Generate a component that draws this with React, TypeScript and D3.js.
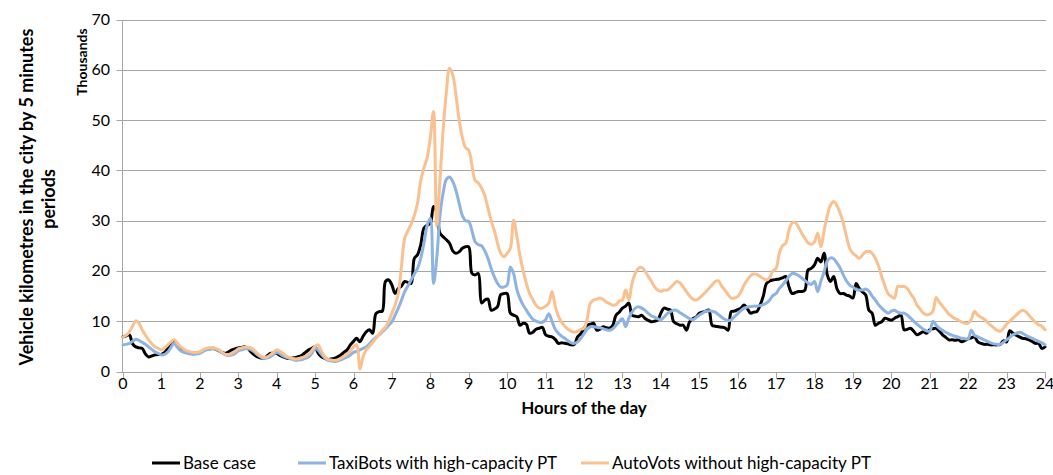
import React from "react";
import * as d3 from "d3";

// Hours of the day shown on the x axis
const hourTicks = [0, 1, 2, 3, 4, 5, 6, 7, 8, 9, 10, 11, 12, 13, 14, 15, 16, 17, 18, 19, 20, 21, 22, 23, 24];
// Thousands of vehicle-km on the y axis
const valueTicks = [0, 10, 20, 30, 40, 50, 60, 70];
const minutesPerPeriod = 5;

const seriesNames = ["Base case", "TaxiBots with high-capacity PT", "AutoVots without high-capacity PT"];

// values in thousands, one per 5-minute period from 0:00 to 24:00
const baseCase = [
  6.9, 7.1, 7.3, 5.5, 4.9, 4.7, 4.6, 3.5, 2.9, 3.1, 3.3, 3.4,
  3.4, 3.8, 4.6, 5.4, 5.9, 5.0, 4.3, 4.0, 3.9, 3.7, 3.6, 3.7,
  3.8, 4.1, 4.4, 4.5, 4.6, 4.4, 4.1, 3.8, 3.6, 3.9, 4.3, 4.5,
  4.7, 4.8, 4.9, 4.6, 3.9, 3.3, 2.9, 2.7, 2.6, 3.1, 3.6, 3.7,
  3.6, 3.2, 2.9, 2.7, 2.6, 2.7, 2.8, 3.0, 3.3, 3.8, 4.3, 4.6,
  4.9, 3.6, 2.9, 2.6, 2.4, 2.5, 2.6, 2.9, 3.3, 3.8, 4.3, 5.3,
  6.0, 6.6, 5.9, 7.0, 7.9, 8.3, 7.6, 11.5, 11.9, 12.0, 17.9, 18.2,
  17.2, 15.5, 16.5, 17.0, 17.9, 17.7, 17.5, 22.5, 23.2, 25.2, 28.5, 29.1,
  29.5, 32.8, 31.8, 27.5, 26.8, 26.2, 25.5, 24.0, 23.5, 23.8, 24.5, 24.8,
  24.8, 19.5, 19.2, 19.5, 13.6, 14.2, 14.4, 12.2, 12.4, 12.9, 15.3, 15.5,
  15.5, 11.6, 11.2, 10.9, 9.2, 9.6, 9.4, 7.6, 7.8, 8.4, 8.6, 8.8,
  7.3, 7.0, 6.9, 6.4, 5.6, 5.7, 5.6, 5.5, 5.3, 5.4, 6.9, 7.5,
  8.6, 9.2, 9.4, 9.6, 8.2, 8.4, 8.9, 8.7, 8.6, 9.2, 11.2, 11.8,
  12.6, 13.0, 13.6, 11.2, 11.0, 10.9, 11.2, 10.6, 10.2, 9.9, 10.0, 10.2,
  11.6, 12.6, 12.4, 12.2, 9.9, 9.5, 9.2, 9.2, 8.2, 9.9, 10.5, 10.8,
  11.6, 11.8, 12.0, 12.2, 9.2, 9.0, 8.9, 8.8, 8.7, 8.2, 11.9, 12.0,
  12.3, 12.6, 13.2, 12.5, 11.6, 11.8, 11.9, 13.2, 15.0, 17.5, 18.0, 18.2,
  18.3, 18.4, 18.6, 18.9, 16.9, 15.5, 15.7, 15.9, 15.9, 16.2, 20.2, 20.5,
  21.2, 22.5, 21.8, 23.5, 19.2, 17.9, 18.9, 16.5, 15.5, 15.5, 15.2, 15.0,
  14.6, 17.5, 16.5, 15.8, 15.2, 12.2, 11.6, 9.2, 9.6, 9.9, 10.6, 10.4,
  10.2, 10.6, 10.9, 11.2, 8.3, 8.4, 8.6, 8.0, 7.3, 7.6, 7.9, 7.6,
  8.3, 8.5, 8.6, 8.0, 7.3, 6.8, 6.3, 6.3, 6.2, 6.3, 5.9, 6.2,
  6.5, 6.7, 6.9, 5.9, 5.6, 5.4, 5.4, 5.3, 5.3, 5.3, 5.4, 6.1,
  5.9, 8.1, 7.6, 7.2, 6.9, 6.6, 6.5, 6.3, 6.0, 5.6, 5.6, 4.6,
  4.9,
];

const taxiBots = [
  5.3, 5.4, 5.6, 6.0, 6.4, 6.2, 5.8, 5.4, 4.9, 4.4, 3.9, 3.6,
  3.3, 3.4, 3.9, 4.8, 5.6, 4.8, 4.1, 3.8, 3.6, 3.5, 3.4, 3.5,
  3.6, 4.0, 4.3, 4.4, 4.5, 4.4, 4.1, 3.7, 3.3, 3.2, 3.3, 3.6,
  4.1, 4.3, 4.5, 4.5, 4.3, 3.9, 3.3, 2.9, 2.6, 2.7, 2.9, 3.4,
  3.8, 3.5, 3.1, 2.8, 2.6, 2.4, 2.2, 2.3, 2.4, 2.6, 2.9, 3.6,
  4.6, 4.2, 3.4, 2.7, 2.2, 2.1, 2.0, 2.1, 2.3, 2.6, 2.9, 3.3,
  3.8, 4.0, 4.3, 4.6, 4.9, 5.5, 6.2, 6.8, 7.3, 7.9, 8.5, 9.2,
  9.9, 11.2, 12.6, 14.2, 15.9, 17.0, 18.2, 19.4, 20.5, 22.5, 25.5, 29.0,
  30.5, 17.5, 22.5, 31.0, 35.5, 38.2, 38.7, 37.8, 36.0, 33.5, 31.0, 30.0,
  29.8, 28.0, 25.8, 25.2, 25.0, 24.0, 22.5, 20.5, 18.8, 17.5, 16.8, 16.8,
  17.2, 20.8, 19.5, 16.4, 14.5, 13.2, 12.2, 11.2, 10.4, 10.0, 9.8, 9.8,
  10.3, 11.5, 10.0, 8.4, 7.6, 7.0, 6.6, 6.1, 5.7, 5.6, 5.9, 6.6,
  7.5, 8.4, 8.9, 8.9, 8.8, 8.7, 8.5, 8.3, 8.2, 8.5, 9.2, 9.9,
  10.5, 8.9, 10.6, 11.8, 12.6, 12.9, 12.6, 12.2, 11.6, 11.1, 10.8, 10.5,
  10.3, 10.8, 11.5, 11.9, 12.2, 12.1, 11.7, 11.3, 10.9, 10.5, 10.3, 10.7,
  11.2, 11.6, 12.0, 12.1, 12.0, 11.8, 11.3, 10.8, 10.4, 10.1, 10.3, 10.9,
  11.5, 12.1, 12.6, 12.8, 12.9, 13.0, 13.0, 13.1, 13.3, 13.6, 14.2, 15.1,
  15.5, 16.5, 17.2, 18.0, 18.9, 19.5, 19.4, 19.1, 18.6, 18.1, 17.6, 17.3,
  17.9, 15.9, 18.0, 19.8, 22.0, 22.6, 22.4, 21.6, 20.6, 19.2, 18.0, 17.2,
  16.8, 16.3, 16.2, 16.2, 16.4, 16.0, 15.0, 14.2, 13.3, 12.6, 12.0, 11.6,
  12.0, 12.2, 11.8, 11.6, 11.6, 11.2, 10.6, 10.0, 9.4, 8.9, 8.4, 8.1,
  8.0, 10.0, 9.2, 8.6, 8.2, 7.8, 7.5, 7.2, 7.0, 6.8, 6.6, 6.5,
  6.5, 8.2, 7.2, 6.9, 6.6, 6.3, 6.0, 5.7, 5.5, 5.4, 5.4, 5.8,
  6.3, 6.8, 7.3, 7.6, 7.8, 7.6, 7.2, 6.9, 6.6, 6.3, 6.0, 5.7,
  5.3,
];

const autoVots = [
  6.9, 7.2, 7.9, 9.0, 10.1, 9.6, 8.3, 7.2, 6.3, 5.5, 4.9, 4.6,
  4.3, 4.7, 5.3, 5.9, 6.3, 5.6, 4.9, 4.4, 4.1, 3.9, 3.8, 3.8,
  3.9, 4.3, 4.6, 4.7, 4.7, 4.6, 4.3, 3.8, 3.4, 3.4, 3.6, 4.0,
  4.5, 4.7, 4.8, 4.8, 4.7, 4.2, 3.6, 3.1, 2.8, 2.9, 3.3, 3.8,
  4.3, 4.0, 3.6, 3.1, 2.8, 2.6, 2.5, 2.6, 2.8, 3.0, 3.4, 4.2,
  5.0, 5.3, 4.0, 3.0, 2.4, 2.3, 2.2, 2.3, 2.6, 3.0, 3.4, 4.1,
  4.9, 5.3, 0.5, 3.0, 4.3, 5.0, 5.8, 6.6, 7.4, 8.2, 8.8, 10.0,
  11.6, 13.2, 15.5, 21.0, 26.5, 28.0, 29.3, 31.0, 33.5, 38.0, 40.5, 42.5,
  46.5, 51.7, 29.0, 38.0, 48.0, 55.5, 60.3, 59.0, 55.0, 50.0, 46.5, 44.5,
  44.0, 41.0, 38.0, 37.5, 36.5, 35.0, 32.5, 30.0, 28.0, 25.5, 23.5, 22.8,
  23.5, 24.5, 30.1, 27.0, 23.0, 20.0, 17.5, 15.5, 14.3, 13.2, 12.6, 12.6,
  13.0, 13.6, 15.9, 13.0, 11.0, 9.8, 9.0, 8.4, 8.0, 7.8, 8.0, 8.4,
  8.6, 10.5, 13.6, 14.2, 14.4, 14.6, 14.3, 13.8, 13.5, 13.2, 13.3, 14.0,
  14.2, 16.2, 14.2, 17.5, 19.5, 20.5, 20.7, 20.0, 19.0, 18.0, 16.9, 16.2,
  15.9, 16.2, 16.2, 16.7, 17.3, 17.9, 17.6, 16.8, 15.9, 15.0, 14.4, 14.2,
  14.6, 15.2, 15.8, 16.5, 17.2, 17.9, 18.0, 17.0, 16.2, 15.3, 14.6, 14.6,
  14.9, 15.8, 17.2, 18.2, 19.0, 19.4, 19.3, 18.9, 18.5, 18.2, 18.7, 20.0,
  20.5, 23.5, 25.0, 25.5, 28.1, 29.5, 29.6, 28.7, 27.5, 26.5, 25.6, 25.3,
  25.8, 27.5, 24.8, 28.0, 31.0, 33.1, 33.8, 33.0, 31.5, 29.5, 26.8, 24.5,
  23.5, 23.0, 22.5, 23.2, 23.8, 23.9, 23.5, 22.5, 21.0, 18.9, 17.0, 15.5,
  14.9, 14.6, 16.9, 16.9, 16.9, 16.5, 15.5, 14.6, 13.2, 12.4, 11.6, 11.3,
  11.4, 12.0, 14.7, 13.8, 13.0, 12.2, 11.4, 10.9, 10.5, 10.2, 9.8, 9.6,
  9.6, 10.4, 12.0, 11.2, 10.8, 10.4, 9.8, 9.2, 8.7, 8.2, 8.0, 8.6,
  9.4, 10.0, 10.6, 11.2, 11.8, 12.2, 11.9, 11.2, 10.5, 9.8, 9.3, 9.0,
  8.3,
];

const seriesValues = [baseCase, taxiBots, autoVots];
const seriesColors = ["#000000", "#8db3e2", "#fac08f"];

const W = 1053;
const H = 475;
const FONT = "Lato, 'Open Sans', sans-serif";

export default function App() {
  const x = d3.scaleLinear().domain([0, 24]).range([123, 1045]);
  const y = d3.scaleLinear().domain([0, 70]).range([371.5, 19.5]);
  const crisp = (v: number) => Math.round(v) + 0.5;

  const line = d3
    .line<number>()
    .x((_, i) => x((i * minutesPerPeriod) / 60))
    .y((d) => y(d))
    .curve(d3.curveCatmullRom.alpha(0.5));

  const legendItems = [
    { lineX: 152, textX: 183 },
    { lineX: 298, textX: 329 },
    { lineX: 581, textX: 612 },
  ];

  const axisColor = "#a6a6a6";
  const plotLeft = crisp(x(0)) - 1;

  return (
    <div style={{ position: "absolute", left: 0, top: 0 }}>
      <svg width={W} height={H} style={{ display: "block", background: "#fff" }} fontFamily={FONT}>
        {/* horizontal gridlines */}
        {valueTicks.map((t) => (
          <line key={"g" + t} x1={plotLeft} x2={x(24) + 1} y1={crisp(y(t))} y2={crisp(y(t))} stroke={axisColor} strokeWidth={1} />
        ))}
        {/* y axis */}
        <line x1={plotLeft} x2={plotLeft} y1={crisp(y(70))} y2={crisp(y(0))} stroke={axisColor} />
        {valueTicks.map((t) => (
          <g key={"yt" + t}>
            <line x1={plotLeft - 6} x2={plotLeft} y1={crisp(y(t))} y2={crisp(y(t))} stroke={axisColor} />
            <text x={110} y={y(t) + 5.5} textAnchor="end" fontSize={16} fill="#000">
              {t}
            </text>
          </g>
        ))}
        {/* x ticks */}
        {hourTicks.map((h) => (
          <g key={"xt" + h}>
            <line x1={crisp(x(h))} x2={crisp(x(h))} y1={crisp(y(0))} y2={crisp(y(0)) + 6} stroke={axisColor} />
            <text x={x(h)} y={389} textAnchor="middle" fontSize={16} fill="#000">
              {h}
            </text>
          </g>
        ))}
        {/* series */}
        {seriesValues.map((vals, i) => (
          <path key={"s" + i} d={line(vals) || ""} fill="none" stroke={seriesColors[i]} strokeWidth={3} strokeLinejoin="round" strokeLinecap="round" />
        ))}
        {/* axis titles */}
        <text x={584} y={414} textAnchor="middle" fontSize={17} fontWeight="bold" fill="#000">
          Hours of the day
        </text>
        <text transform="translate(33,197) rotate(-90)" textAnchor="middle" fontSize={18} fontWeight="bold" fill="#000">
          Vehicle kilometres in the city by 5 minutes
        </text>
        <text transform="translate(55,199) rotate(-90)" textAnchor="middle" fontSize={18} fontWeight="bold" fill="#000">
          periods
        </text>
        <text transform="translate(87,62) rotate(-90)" textAnchor="middle" fontSize={14} fontWeight="bold" fill="#000">
          Thousands
        </text>
        {/* legend */}
        {seriesNames.map((name, i) => (
          <g key={"l" + i}>
            <line x1={legendItems[i].lineX} x2={legendItems[i].lineX + 28} y1={463} y2={463} stroke={seriesColors[i]} strokeWidth={3} />
            <text x={legendItems[i].textX} y={469} fontSize={17} fill="#000">
              {name}
            </text>
          </g>
        ))}
      </svg>
    </div>
  );
}
